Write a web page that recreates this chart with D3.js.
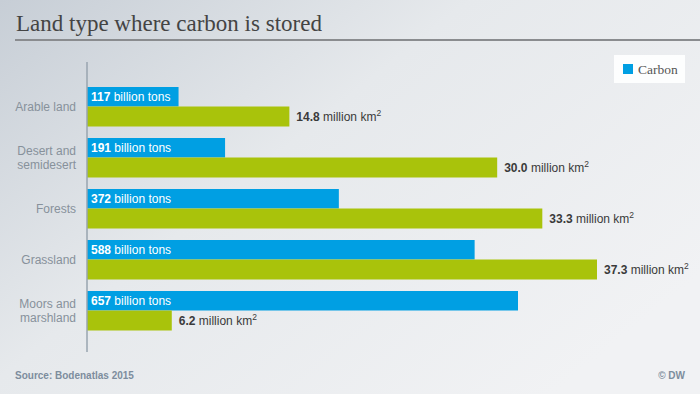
<!DOCTYPE html>
<html>
<head>
<meta charset="utf-8">
<script src="https://cdn.jsdelivr.net/npm/d3@7"></script>
<style>
  html, body { margin: 0; padding: 0; }
  svg { display: block; }
</style>
</head>
<body>
<svg></svg>
<script>
// Data
const categories = [["Arable land"], ["Desert and", "semidesert"], ["Forests"], ["Grassland"], ["Moors and", "marshland"]];
const carbon = [117, 191, 372, 588, 657];      // billion tons
const area = [14.8, 30.0, 33.3, 37.3, 6.2];     // million km2

// Dimensions
const width = 700, height = 394;
const axisX = 87;
const blue = "#009fe3", green = "#a9c30b";

const svg = d3.select("svg").attr("width", width).attr("height", height);

// Background gradient
const defs = svg.append("defs");
const grad = defs.append("linearGradient").attr("id", "bg")
    .attr("x1", "0%").attr("y1", "0%").attr("x2", "100%").attr("y2", "70%");
grad.append("stop").attr("offset", "0%").attr("stop-color", "#c7ced6");
grad.append("stop").attr("offset", "45%").attr("stop-color", "#e6e9ec");
grad.append("stop").attr("offset", "100%").attr("stop-color", "#f1f2f4");
svg.append("rect").attr("width", width).attr("height", height).attr("fill", "url(#bg)");

// Title
const title = svg.append("text")
    .attr("x", 16).attr("y", 31)
    .style("font-family", "'Liberation Serif', 'DejaVu Serif', serif")
    .style("font-size", "24px")
    .style("fill", "#444")
    .text("Land type where carbon is stored");
const tw = title.node().getComputedTextLength();
title.style("font-size", (24 * 306 / tw) + "px");

svg.append("line")
    .attr("x1", 15).attr("x2", width).attr("y1", 40).attr("y2", 40)
    .style("stroke", "#8a8c8f").style("stroke-width", 2);

// Scales
const keys = categories.map(c => c.join(" "));
const yScale = d3.scaleBand().domain(keys).range([87, 331]).paddingInner(11 / 51);
const barH = yScale.bandwidth() / 2;
const xCarbon = d3.scaleLinear().domain([0, 657]).range([105, 518]);
const xArea = d3.scaleLinear().domain([0, 37.3]).range([axisX, 597]);

const g = svg.append("g");

// Carbon bars
g.selectAll(".carbon").data(carbon).enter().append("rect")
    .attr("class", "carbon")
    .attr("x", axisX)
    .attr("y", (d, i) => yScale(keys[i]))
    .attr("width", d => xCarbon(d) - axisX)
    .attr("height", barH - 0.5)
    .style("fill", blue);

// Area bars
g.selectAll(".area").data(area).enter().append("rect")
    .attr("class", "area")
    .attr("x", axisX)
    .attr("y", (d, i) => yScale(keys[i]) + barH - 0.5)
    .attr("width", d => xArea(d) - axisX)
    .attr("height", barH)
    .style("fill", green);

// Carbon labels
const cl = g.selectAll(".clabel").data(carbon).enter().append("text")
    .attr("class", "clabel")
    .attr("x", axisX + 4)
    .attr("y", (d, i) => yScale(keys[i]) + barH / 2 + 4.3)
    .style("font-family", "'Liberation Sans', Arial, sans-serif")
    .style("font-size", "12px")
    .style("fill", "#fff");
cl.append("tspan").style("font-weight", "bold").text(d => d);
cl.append("tspan").text(" billion tons");

// Area labels
const al = g.selectAll(".alabel").data(area).enter().append("text")
    .attr("class", "alabel")
    .attr("x", d => xArea(d) + 7)
    .attr("y", (d, i) => yScale(keys[i]) + barH * 1.5 + 4.3)
    .style("font-family", "'Liberation Sans', Arial, sans-serif")
    .style("font-size", "12px")
    .style("fill", "#3a3a3a");
al.append("tspan").style("font-weight", "bold").text(d => d3.format(".1f")(d));
al.append("tspan").text(" million km");
al.append("tspan").attr("dy", -5).style("font-size", "8.5px").text("2");

// Category labels
const cat = g.selectAll(".cat").data(categories).enter().append("text")
    .attr("class", "cat")
    .attr("text-anchor", "end")
    .style("font-family", "'Liberation Sans', Arial, sans-serif")
    .style("font-size", "12px")
    .style("fill", "#87919b");
cat.each(function(lines, i) {
    const cy = yScale(keys[i]) + barH;
    lines.forEach((t, j) => {
        d3.select(this).append("tspan")
            .attr("x", 76)
            .attr("y", cy + 4.3 + (j - (lines.length - 1) / 2) * 14)
            .text(t);
    });
});

// Axis line
g.append("line")
    .attr("x1", axisX).attr("x2", axisX).attr("y1", 62).attr("y2", 352)
    .style("stroke", "#99a4af").style("stroke-width", 1.5);

// Legend
const lg = svg.append("g");
lg.append("rect").attr("x", 614).attr("y", 55).attr("width", 71).attr("height", 28)
    .style("fill", "#fff").style("opacity", 0.9);
lg.append("rect").attr("x", 623).attr("y", 64).attr("width", 10).attr("height", 10).style("fill", blue);
lg.append("text").attr("x", 638).attr("y", 73.5)
    .style("font-family", "'Liberation Serif', 'DejaVu Serif', serif")
    .style("font-size", "13.5px").style("fill", "#555")
    .text("Carbon");

// Footer
svg.append("text").attr("x", 15).attr("y", 378.5)
    .style("font-family", "'Liberation Sans', Arial, sans-serif")
    .style("font-size", "10px").style("font-weight", "bold").style("fill", "#7d8d9d")
    .text("Source: Bodenatlas 2015");
svg.append("text").attr("x", 685).attr("y", 378.5).attr("text-anchor", "end")
    .style("font-family", "'Liberation Sans', Arial, sans-serif")
    .style("font-size", "10px").style("font-weight", "bold").style("fill", "#7d8d9d")
    .text("© DW");
</script>
</body>
</html>
